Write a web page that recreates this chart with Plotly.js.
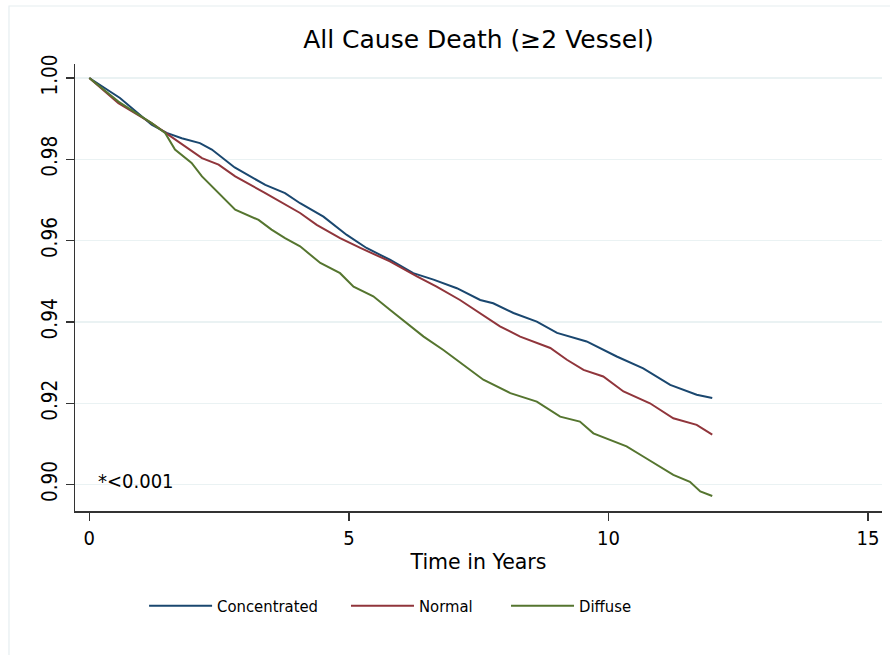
<!DOCTYPE html>
<html>
<head>
<meta charset="utf-8">
<script src="https://cdn.plot.ly/plotly-3.0.1.min.js"></script>
<style>html,body{margin:0;padding:0;background:#fff;}#chart{width:890px;height:655px;}</style>
</head>
<body>
<div id="chart"></div>
<script>
// Kaplan-Meier survival estimates
var seriesNames = ["Concentrated", "Normal", "Diffuse"];

var concTime = [0, 0.59, 1.2, 1.49, 1.78, 2.13, 2.36, 2.8, 3.39, 3.77, 4.06, 4.51, 4.96, 5.34, 5.79, 6.24, 6.63, 7.08, 7.53, 7.78, 8.17, 8.62, 9.01, 9.58, 10.16, 10.67, 11.19, 11.70, 12.0];
var concSurv = [1.0, 0.9951, 0.9885, 0.9865, 0.9852, 0.9840, 0.9824, 0.9780, 0.9737, 0.9717, 0.9692, 0.9659, 0.9614, 0.9582, 0.9553, 0.9520, 0.9504, 0.9483, 0.9454, 0.9446, 0.9422, 0.9401, 0.9373, 0.9352, 0.9315, 0.9286, 0.9245, 0.9221, 0.9213];

var normTime = [0, 0.56, 1.2, 1.52, 1.84, 2.17, 2.49, 2.81, 3.39, 3.77, 4.06, 4.38, 4.83, 5.22, 5.79, 6.31, 6.69, 7.14, 7.53, 7.91, 8.30, 8.88, 9.20, 9.52, 9.90, 10.29, 10.80, 11.25, 11.70, 12.0];
var normSurv = [1.0, 0.9938, 0.9889, 0.9860, 0.9832, 0.9803, 0.9787, 0.9758, 0.9717, 0.9688, 0.9668, 0.9639, 0.9606, 0.9582, 0.9549, 0.9512, 0.9487, 0.9454, 0.9422, 0.9389, 0.9364, 0.9336, 0.9307, 0.9282, 0.9266, 0.9229, 0.9200, 0.9163, 0.9147, 0.9123];

var diffTime = [0, 0.56, 1.2, 1.46, 1.65, 1.97, 2.17, 2.49, 2.81, 3.26, 3.51, 3.77, 4.06, 4.45, 4.83, 5.09, 5.47, 5.79, 6.12, 6.44, 6.82, 7.34, 7.59, 8.11, 8.62, 9.07, 9.45, 9.71, 10.03, 10.35, 10.67, 10.93, 11.25, 11.57, 11.77, 12.0];
var diffSurv = [1.0, 0.9942, 0.9889, 0.9865, 0.9824, 0.9791, 0.9758, 0.9717, 0.9676, 0.9651, 0.9627, 0.9606, 0.9586, 0.9545, 0.9520, 0.9487, 0.9463, 0.9430, 0.9397, 0.9364, 0.9331, 0.9282, 0.9258, 0.9225, 0.9204, 0.9167, 0.9155, 0.9126, 0.9110, 0.9094, 0.9069, 0.9048, 0.9024, 0.9007, 0.8983, 0.8972];

var xTicks = [0, 5, 10, 15];
var yTicks = [0.90, 0.92, 0.94, 0.96, 0.98, 1.00];
var yTickLabels = ["0.90", "0.92", "0.94", "0.96", "0.98", "1.00"];

var colors = ["#1a476f", "#90353b", "#55752f"];
var COND = "DejaVu Sans Condensed, DejaVu Sans, sans-serif";
var REG = "DejaVu Sans, sans-serif";

var times = [concTime, normTime, diffTime];
var survs = [concSurv, normSurv, diffSurv];
var legendIds = ["legend", "legend2", "legend3"];
var traces = seriesNames.map(function (n, i) {
  return {
    x: times[i], y: survs[i], name: n, type: "scatter", mode: "lines",
    line: {color: colors[i], width: 2}, legend: legendIds[i]
  };
});

function leg(xp) {
  return {orientation: "h", x: xp, xanchor: "left", y: -0.2125, yanchor: "middle",
          font: {family: COND, size: 16.5, color: "#000"}, itemwidth: 63, bgcolor: "rgba(0,0,0,0)"};
}

var layout = {
  width: 890, height: 655,
  margin: {l: 75, r: 8, t: 64, b: 144},
  paper_bgcolor: "#ffffff", plot_bgcolor: "#ffffff",
  font: {family: COND, size: 19, color: "#000"},
  title: {text: "All Cause Death (\u22652 Vessel)", font: {family: REG, size: 25, color: "#000"},
          x: 0.5, xanchor: "center", y: 0.94, yanchor: "middle", xref: "paper"},
  xaxis: {
    range: [-0.276, 15.27], tickvals: xTicks, ticktext: xTicks.map(String),
    ticks: "outside", ticklen: 8, tickwidth: 1.5, tickcolor: "#333",
    showline: true, linecolor: "#333", linewidth: 1.5, showgrid: false, zeroline: false,
    tickfont: {family: COND, size: 20, color: "#000"},
    title: {text: "Time in Years", font: {family: REG, size: 20.5, color: "#000"}, standoff: 6}
  },
  yaxis: {
    range: [0.8935, 1.00345], tickvals: yTicks, ticktext: yTickLabels,
    ticks: "outside", ticklen: 8, tickwidth: 1.5, tickcolor: "#333", tickangle: -90,
    showline: true, linecolor: "#333", linewidth: 1.5, showgrid: true, gridcolor: "#eaf2f3", gridwidth: 1.5,
    zeroline: false, tickfont: {family: COND, size: 20.5, color: "#000"}
  },
  showlegend: true,
  legend: leg(0.0856),
  legend2: leg(0.3358),
  legend3: leg(0.5341),
  annotations: [{
    text: "*<0.001", x: 0.13, y: 0.901, xref: "x", yref: "y", xanchor: "left", yanchor: "middle",
    showarrow: false, font: {family: COND, size: 20, color: "#000"}
  }],
  shapes: [{type: "rect", xref: "paper", yref: "paper", x0: -0.0818, x1: 1.3, y0: -0.5, y1: 1.1298,
            line: {color: "#e6eef0", width: 1.2}, fillcolor: "rgba(0,0,0,0)", layer: "below"}]
};

Plotly.newPlot("chart", traces, layout, {displayModeBar: false, staticPlot: true});
</script>
</body>
</html>
